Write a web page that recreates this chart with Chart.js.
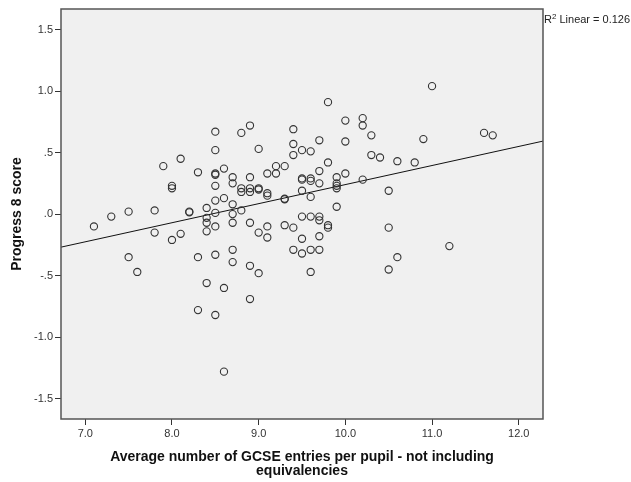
<!DOCTYPE html>
<html>
<head>
<meta charset="utf-8">
<script src="https://cdn.jsdelivr.net/npm/chart.js@4/dist/chart.umd.min.js"></script>
<style>
  html, body { margin: 0; padding: 0; background: #fff; }
  #wrap { width: 631px; height: 482px; position: relative; }
</style>
</head>
<body>
<div id="wrap"><canvas id="scatter"></canvas></div>
<script>
// values
const entries = [
  7.1, 7.3, 7.5, 7.5, 7.6, 7.8, 7.8, 7.9,
  8.0, 8.0, 8.0, 8.1, 8.1, 8.2, 8.2, 8.3, 8.3, 8.3,
  8.4, 8.4, 8.4, 8.4, 8.4,
  8.5, 8.5, 8.5, 8.5, 8.5, 8.5, 8.5, 8.5, 8.5, 8.5,
  8.6, 8.6, 8.6, 8.6,
  8.7, 8.7, 8.7, 8.7, 8.7, 8.7, 8.7,
  8.8, 8.8, 8.8, 8.8,
  8.9, 8.9, 8.9, 8.9, 8.9, 8.9, 8.9,
  9.0, 9.0, 9.0, 9.0, 9.0,
  9.1, 9.1, 9.1, 9.1, 9.1,
  9.2, 9.2,
  9.3, 9.3, 9.3, 9.3,
  9.4, 9.4, 9.4, 9.4, 9.4,
  9.5, 9.5, 9.5, 9.5, 9.5, 9.5, 9.5,
  9.6, 9.6, 9.6, 9.6, 9.6, 9.6, 9.6,
  9.7, 9.7, 9.7, 9.7, 9.7, 9.7, 9.7,
  9.8, 9.8, 9.8, 9.8,
  9.9, 9.9, 9.9, 9.9, 9.9,
  10.0, 10.0, 10.0,
  10.2, 10.2, 10.2,
  10.3, 10.3, 10.4,
  10.5, 10.5, 10.5, 10.6, 10.6,
  10.8, 10.9, 11.0, 11.2, 11.6, 11.7
];
const progress8 = [
  -0.10, -0.02, 0.02, -0.35, -0.47, 0.03, -0.15, 0.39,
  0.23, 0.21, -0.21, 0.45, -0.16, 0.02, 0.015, 0.34, -0.35, -0.78,
  0.05, -0.03, -0.07, -0.14, -0.56,
  0.67, 0.52, 0.33, 0.32, 0.23, 0.11, 0.01, -0.10, -0.33, -0.82,
  0.37, 0.13, -0.60, -1.28,
  0.30, 0.25, 0.08, 0.00, -0.07, -0.29, -0.39,
  0.66, 0.21, 0.18, 0.03,
  0.72, 0.30, 0.21, 0.18, -0.07, -0.42, -0.69,
  0.53, 0.21, 0.20, -0.15, -0.48,
  0.33, 0.17, 0.15, -0.10, -0.19,
  0.39, 0.33,
  0.39, 0.125, 0.12, -0.09,
  0.69, 0.57, 0.48, -0.11, -0.29,
  0.52, 0.29, 0.28, 0.19, -0.02, -0.20, -0.32,
  0.51, 0.29, 0.27, 0.14, -0.02, -0.29, -0.47,
  0.60, 0.35, 0.25, -0.02, -0.05, -0.18, -0.29,
  0.91, 0.42, -0.09, -0.11,
  0.30, 0.25, 0.23, 0.21, 0.06,
  0.76, 0.59, 0.33,
  0.78, 0.72, 0.28,
  0.64, 0.48, 0.46,
  0.19, -0.11, -0.45, 0.43, -0.35,
  0.42, 0.61, 1.04, -0.26, 0.66, 0.64
];

// fit line as shown (R2 Linear = 0.126)
const fitIntercept = -1.31;
const fitSlope = 0.155;
const rSquared = 0.126;

const xTicks = [7, 8, 9, 10, 11, 12];
const yTicks = [-1.5, -1.0, -0.5, 0, 0.5, 1.0, 1.5];
const xRange = [6.72, 12.28];
const yRange = [-1.665, 1.667];

const FONT = "'Liberation Sans', Arial, sans-serif";

function spssNum(v) {
  let s = v.toFixed(1);
  if (s.startsWith('0')) s = s.slice(1);
  if (s.startsWith('-0')) s = '-' + s.slice(2);
  return s;
}

const points = entries.map((x, i) => ({ x: x, y: progress8[i] }));
const fitPoints = xRange.map(x => ({ x: x, y: fitIntercept + fitSlope * x }));

const frame = {
  id: 'frame',
  beforeDraw(chart) {
    const { ctx, chartArea: a } = chart;
    ctx.save();
    ctx.fillStyle = '#fff';
    ctx.fillRect(0, 0, chart.width, chart.height);
    ctx.fillStyle = '#f0f0f0';
    ctx.fillRect(a.left, a.top, a.right - a.left, a.bottom - a.top);
    ctx.restore();
  },
  afterDraw(chart) {
    const { ctx, chartArea: a } = chart;
    ctx.save();
    ctx.strokeStyle = '#555';
    ctx.lineWidth = 1.5;
    ctx.strokeRect(a.left, a.top, a.right - a.left, a.bottom - a.top);

    // R2 label outside the plot, top right
    ctx.fillStyle = '#222';
    ctx.textBaseline = 'alphabetic';
    let x = a.right + 1;
    const y = 23;
    ctx.font = '11px ' + FONT;
    ctx.fillText('R', x, y);
    x += ctx.measureText('R').width;
    ctx.font = '8px ' + FONT;
    ctx.fillText('2', x, y - 4);
    x += ctx.measureText('2').width;
    ctx.font = '11px ' + FONT;
    ctx.fillText(' Linear = ' + rSquared.toFixed(3), x, y);
    ctx.restore();
  }
};

new Chart(document.getElementById('scatter').getContext('2d'), {
  type: 'scatter',
  data: {
    datasets: [
      {
        data: points,
        pointStyle: 'circle',
        pointRadius: 3.6,
        pointBorderWidth: 1.1,
        pointBorderColor: '#333',
        pointBackgroundColor: 'rgba(0,0,0,0)',
        pointHoverRadius: 3.6
      },
      {
        data: fitPoints,
        showLine: true,
        borderColor: '#111',
        borderWidth: 1,
        pointRadius: 0,
        pointHoverRadius: 0
      }
    ]
  },
  options: {
    responsive: true,
    maintainAspectRatio: false,
    animation: false,
    events: [],
    layout: { padding: { top: 9, right: 88, left: 0, bottom: 0 } },
    plugins: { legend: { display: false }, tooltip: { enabled: false } },
    scales: {
      x: {
        type: 'linear',
        min: xRange[0],
        max: xRange[1],
        afterBuildTicks: s => { s.ticks = xTicks.map(v => ({ value: v })); },
        afterFit: s => { s.height = 63; },
        border: { display: false },
        grid: { display: true, drawOnChartArea: false, drawTicks: true, tickLength: 6, color: '#333' },
        ticks: {
          padding: 2,
          color: '#333',
          font: { family: FONT, size: 11 },
          maxRotation: 0,
          callback: v => v.toFixed(1)
        },
        title: {
          display: true,
          text: ['Average number of GCSE entries per pupil - not including', 'equivalencies'],
          color: '#111',
          font: { family: FONT, size: 14, weight: 'bold', lineHeight: 1 },
          padding: { top: 0, bottom: 4 }
        }
      },
      y: {
        type: 'linear',
        min: yRange[0],
        max: yRange[1],
        afterBuildTicks: s => { s.ticks = yTicks.map(v => ({ value: v })); },
        afterFit: s => { s.width = 61; },
        border: { display: false },
        grid: { display: true, drawOnChartArea: false, drawTicks: true, tickLength: 6, color: '#333' },
        ticks: {
          padding: 2,
          color: '#333',
          font: { family: FONT, size: 11 },
          callback: v => spssNum(v)
        },
        title: {
          display: true,
          text: 'Progress 8 score',
          color: '#111',
          font: { family: FONT, size: 14, weight: 'bold', lineHeight: 1 },
          padding: { top: 10, bottom: 0 }
        }
      }
    }
  },
  plugins: [frame]
});
</script>
</body>
</html>
